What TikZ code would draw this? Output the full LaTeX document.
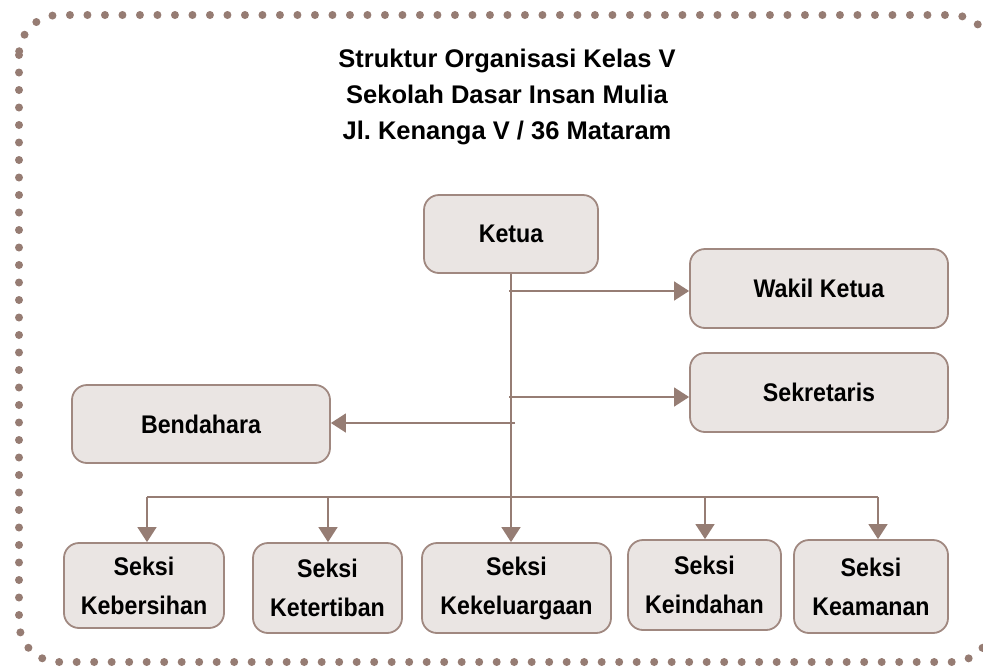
\documentclass[tikz,border=0pt]{standalone}
\usepackage{fontspec}
\setmainfont{Liberation Sans}
\newfontfamily\kotakfont[FakeStretch=0.91]{Liberation Sans}
\usetikzlibrary{arrows.meta}
\definecolor{titikcoklat}{RGB}{150,124,115}
\definecolor{isikotak}{RGB}{234,229,227}
\definecolor{tepikotak}{RGB}{160,136,128}
\definecolor{garis}{RGB}{150,125,116}
\frenchspacing
\begin{document}
\begin{tikzpicture}[x=1pt, y=-1pt, line join=round, >={Triangle[length=15pt,width=19pt]}]
	\tikzset{
		kotak/.style={draw=tepikotak, fill=isikotak, line width=1.8pt, rounded corners=15pt,
			inner sep=0pt, align=center, font=\kotakfont\fontsize{25.5}{39}\selectfont\bfseries},
		hubung/.style={color=garis, line width=1.4pt},
		panah/.style={hubung, ->},
	}
	\useasboundingbox (0,0) rectangle (983,667);

	% Bingkai titik-titik
	\draw[titikcoklat, line width=8pt, line cap=round, dash pattern=on 0pt off 17.5pt,
		rounded corners=40pt] (19,15) rectangle (992,662);

	% Judul
	\node[align=center, font=\fontsize{25.5}{36}\selectfont\bfseries] (judul) at (507,97)
		{Struktur Organisasi Kelas V\\Sekolah Dasar Insan Mulia\\Jl. Kenanga V / 36 Mataram};

	% Kotak pengurus inti
	\node[kotak, minimum width=174, minimum height=78] (ketua) at (511,234) {Ketua};
	\node[kotak, minimum width=258, minimum height=79] (wakil) at (819,288.5) {Wakil Ketua};
	\node[kotak, minimum width=258, minimum height=79] (sekre) at (819,392.5) {Sekretaris};
	\node[kotak, minimum width=258, minimum height=78] (benda) at (201,424) {Bendahara};

	% Kotak seksi
	\node[kotak, minimum width=160, minimum height=85] (bersih) at (144,585.5) {Seksi\\Kebersihan};
	\node[kotak, minimum width=149, minimum height=90] (tertib) at (327.5,588) {Seksi\\Ketertiban};
	\node[kotak, minimum width=189, minimum height=90] (keluarga) at (516.5,588) {Seksi\\Kekeluargaan};
	\node[kotak, minimum width=153, minimum height=90] (indah) at (704.5,585) {Seksi\\Keindahan};
	\node[kotak, minimum width=154, minimum height=93] (aman) at (871,586.5) {Seksi\\Keamanan};

	% Garis utama dari ketua
	\draw[panah] (ketua.south) -- (ketua.south |- keluarga.north);

	% Cabang ke wakil, sekretaris, bendahara
	\coordinate (cw) at (509,291);
	\coordinate (cs) at (509,397);
	\coordinate (cb) at (515,423);
	\draw[panah] (cw) -- (cw -| wakil.west);
	\draw[panah] (cs) -- (cs -| sekre.west);
	\draw[panah] (cb) -- (cb -| benda.east);

	% Garis seksi
	\coordinate (b-bersih) at (147,497);
	\coordinate (b-tertib) at (328,497);
	\coordinate (b-indah) at (705,497);
	\coordinate (b-aman) at (878,497);
	\draw[hubung] (b-bersih) -- (b-aman);
	\foreach \seksi in {bersih, tertib, indah, aman} {
		\draw[panah] (b-\seksi) -- (b-\seksi |- \seksi.north);
	}

\end{tikzpicture}
\end{document}
